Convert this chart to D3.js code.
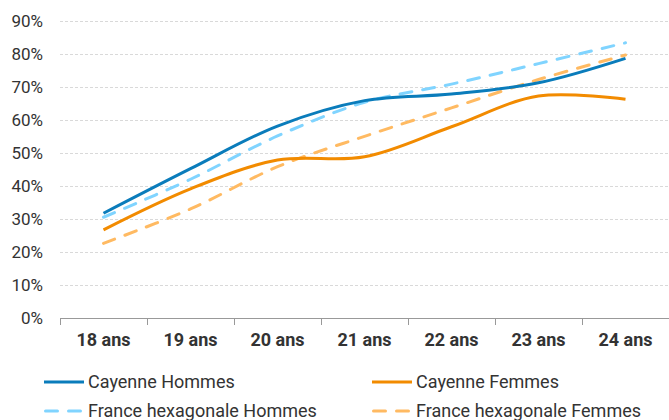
<!DOCTYPE html>
<html><head><meta charset="utf-8">
<script src="https://cdn.jsdelivr.net/npm/d3@7"></script>
<style>
html,body{margin:0;padding:0;background:#fff;}
svg{display:block;font-family:Roboto, "Noto Sans", sans-serif;}
</style></head>
<body><svg id="c" width="669" height="420"></svg>
<script>
const categories = ["18 ans","19 ans","20 ans","21 ans","22 ans","23 ans","24 ans"];
const yTicks = [0,0.1,0.2,0.3,0.4,0.5,0.6,0.7,0.8,0.9];
const cayenneHommes = [0.317,0.452,0.581,0.658,0.678,0.712,0.786];
const cayenneFemmes = [0.267,0.391,0.478,0.488,0.579,0.672,0.662];
const franceHommes = [0.305,0.42,0.551,0.653,0.708,0.77,0.833];
const franceFemmes = [0.226,0.33,0.458,0.55,0.636,0.722,0.796];
const seriesNames = ["Cayenne Hommes","Cayenne Femmes","France hexagonale Hommes","France hexagonale Femmes"];
const seriesValues = [cayenneHommes, cayenneFemmes, franceHommes, franceFemmes];
const seriesColors = ["#0a7cbb","#f28b00","#80d4ff","#ffba62"];
const seriesDashed = [false,false,true,true];

const svg = d3.select("#c");
const mLeft = 60, mRight = 669, mTop = 20.7, mBottom = 318;
const x = d3.scaleBand().domain(categories).range([mLeft, mRight]).padding(0);
const y = d3.scaleLinear().domain([0, 0.9]).range([mBottom, mTop]);

// gridlines
svg.append("g").selectAll("line").data(yTicks.filter(d => d > 0)).join("line")
  .attr("x1", mLeft).attr("x2", mRight)
  .attr("y1", d => Math.round(y(d)) + 0.5).attr("y2", d => Math.round(y(d)) + 0.5)
  .attr("stroke", "#d9d9d9").attr("stroke-width", 1).attr("stroke-dasharray", "3,2");

// y axis labels
const yAxis = d3.axisLeft(y).tickValues(yTicks).tickFormat(d3.format(".0%")).tickSize(0).tickPadding(0);
const gy = svg.append("g").attr("transform", "translate(43,0)").call(yAxis);
gy.select(".domain").remove();
gy.selectAll("text").attr("font-size", 17).attr("fill", "#333").attr("font-family", "Roboto");

// x axis
const xAxis = d3.axisBottom(x).tickSize(0).tickPadding(0);
const gx = svg.append("g").attr("transform", `translate(0,${mBottom})`).call(xAxis);
gx.select(".domain").attr("stroke", "#999").attr("d", `M${mLeft},0.5H${mRight}`);
gx.selectAll("text").attr("y", 15).attr("dy", "0.71em").attr("font-size", 18)
  .attr("font-weight", "bold").attr("fill", "#333").attr("font-family", "Roboto");
// tick marks at band boundaries
svg.append("g").selectAll("line").data(categories).join("line")
  .attr("x1", d => Math.round(x(d)) + 0.5).attr("x2", d => Math.round(x(d)) + 0.5)
  .attr("y1", mBottom).attr("y2", mBottom + 7)
  .attr("stroke", "#999").attr("stroke-width", 1);

// lines
const line = d3.line()
  .x((d, i) => x(categories[i]) + x.bandwidth() / 2)
  .y(d => y(d))
  .curve(d3.curveCatmullRom.alpha(0.5));

const order = [2, 3, 1, 0];
order.forEach(k => {
  svg.append("path").datum(seriesValues[k])
    .attr("d", line)
    .attr("fill", "none")
    .attr("stroke", seriesColors[k])
    .attr("stroke-width", 3)
    .attr("stroke-linecap", seriesDashed[k] ? "round" : "butt")
    .attr("stroke-dasharray", seriesDashed[k] ? "12,11" : null);
});

// legend
const legendX = [44, 372], legendY = [382, 411];
seriesNames.forEach((name, k) => {
  const lx = legendX[k % 2], ly = legendY[Math.floor(k / 2)];
  const g = svg.append("g");
  g.append("line").attr("x1", lx + (seriesDashed[k] ? 1.5 : 0)).attr("x2", lx + 40)
    .attr("y1", ly).attr("y2", ly)
    .attr("stroke", seriesColors[k]).attr("stroke-width", 3)
    .attr("stroke-linecap", seriesDashed[k] ? "round" : "butt")
    .attr("stroke-dasharray", seriesDashed[k] ? "12,11" : null);
  g.append("text").attr("x", lx + 44).attr("y", ly).attr("dy", "0.35em")
    .attr("font-size", 18).attr("fill", "#333").text(name);
});
</script></body></html>
